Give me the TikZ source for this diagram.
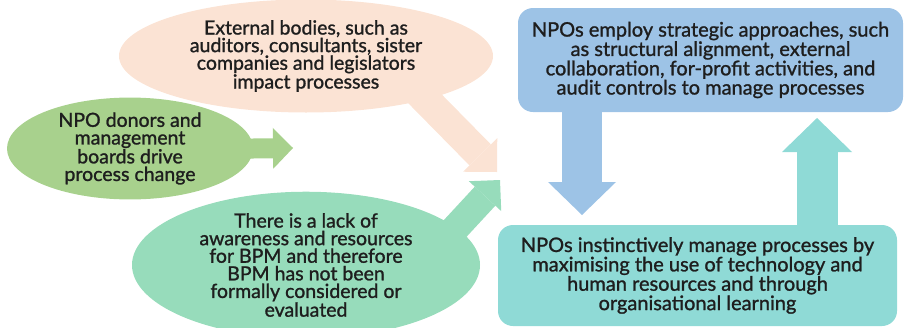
\documentclass[tikz,border=0pt]{standalone}
\usepackage{fontspec}
\setmainfont{Lato}[FakeBold=1.2]
\usetikzlibrary{arrows.meta,shapes.geometric,backgrounds}

\definecolor{peach}{HTML}{FBE3D4}
\definecolor{leaf}{HTML}{A8D18D}
\definecolor{mint}{HTML}{97DCBB}
\definecolor{sky}{HTML}{9DC3E6}
\definecolor{aqua}{HTML}{8FDAD6}
\definecolor{ink}{HTML}{1E1E1E}

\begin{document}
\begin{tikzpicture}[x=1pt,y=1pt,yscale=-1,xscale=1,
		blob/.style={ellipse, inner sep=0pt, align=center, text=ink, font=\fontsize{19.5}{17.6}\selectfont},
		panel/.style={rectangle, rounded corners=15pt, inner sep=0pt, align=center, text=ink, font=\fontsize{20}{17.2}\selectfont},
		fatarrow/.style n args={3}{line width=#1, line cap=butt, -{Triangle[length=#2, width=#3, line width=0pt]}}]
		\useasboundingbox (0,0) rectangle (904,327);

		% The three ellipses on the left
		\node[blob, fill=peach, minimum width=374pt, minimum height=113pt] (external) at (306,56)
			{External bodies, such as\\auditors, consultants, sister\\companies and legislators\\impact processes};
		\node[blob, fill=leaf, minimum width=246pt, minimum height=97pt] (donors) at (130,148.5)
			{NPO donors and\\management\\boards drive\\process change};
		\node[blob, fill=mint, minimum width=348pt, minimum height=130pt] (lack) at (306,265)
			{There is a lack of\\awareness and resources\\for BPM and therefore\\BPM has not been\\formally considered or\\evaluated};

		% The two boxes on the right
		\node[panel, fill=sky, minimum width=385pt, minimum height=104pt] (strategic) at (710.5,60)
			{NPOs employ strategic approaches, such\\as structural alignment, external\\collaboration, for-profit activities, and\\audit controls to manage processes};
		\node[panel, fill=aqua, minimum width=399pt, minimum height=101pt] (instinct) at (697.5,275.5)
			{NPOs instinctively manage processes by\\maximising the use of technology and\\human resources and through\\organisational learning};

		% Free ends of the arrows
		\coordinate (extTip) at (497,172);
		\coordinate (donTip) at (293,148);
		\coordinate (lackTip) at (500,180);
		\coordinate (downTip) at (582,215);
		\coordinate (upTip) at (817,118);

		% Block arrows, tucked under the shapes they leave
		\begin{scope}[on background layer]
			\draw[peach, fatarrow={30pt}{24pt}{48pt}, shorten <=-25pt] (external.-20) -- (extTip);
			\draw[leaf, fatarrow={20pt}{20pt}{41pt}, shorten <=-10pt] (donors.east) -- (donTip);
			\draw[mint, fatarrow={28pt}{22pt}{44pt}, shorten <=-25pt] (lack.14) -- (lackTip);
			\draw[sky, fatarrow={40pt}{33pt}{68pt}, shorten <=-5pt] (strategic.south -| downTip) -- (downTip);
			\draw[aqua, fatarrow={41pt}{34pt}{70pt}, shorten <=-5pt] (instinct.north -| upTip) -- (upTip);
		\end{scope}
	\end{tikzpicture}
\end{document}
